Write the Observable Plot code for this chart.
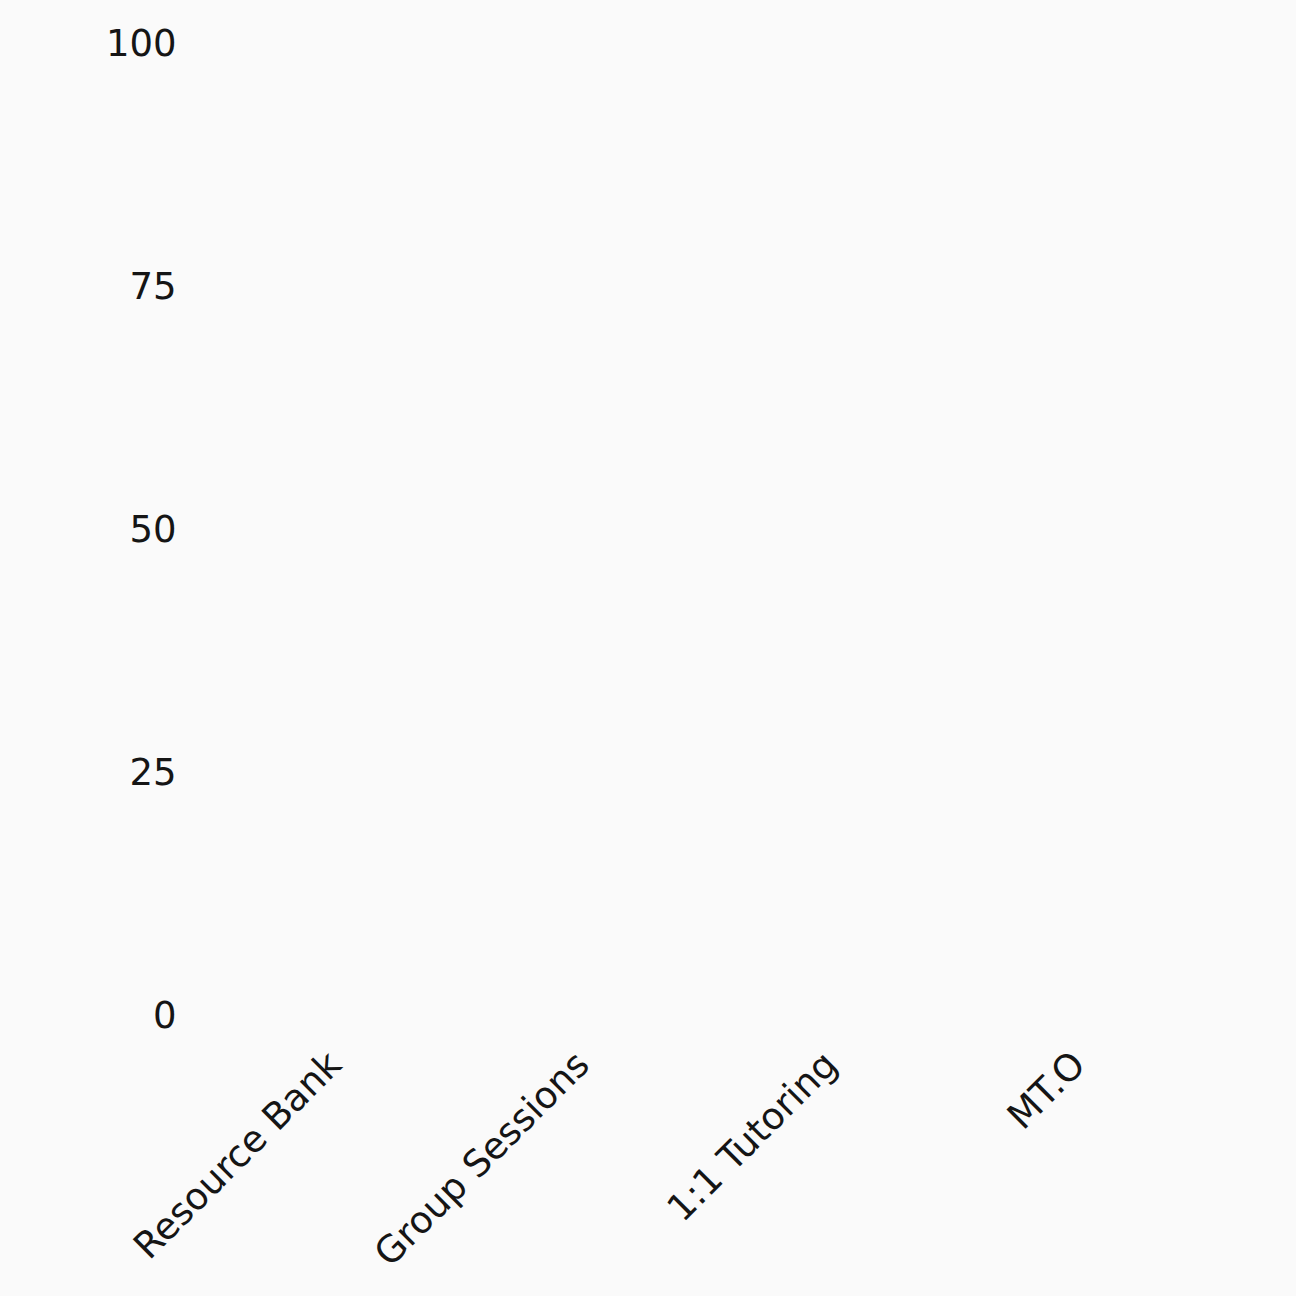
<!DOCTYPE html>
<html>
<head>
<meta charset="utf-8">
<script src="https://cdn.jsdelivr.net/npm/d3@7"></script>
<script src="https://cdn.jsdelivr.net/npm/@observablehq/plot@0.6"></script>
<style>
  html, body { margin: 0; padding: 0; background: #fafafa; }
  #chart svg { display: block; background: #fafafa; }
</style>
</head>
<body>
<div id="chart"></div>
<script>
const categories = ["Resource Bank", "Group Sessions", "1:1 Tutoring", "MT.O"];
const values = [0, 0, 0, 0];
const yTicks = [0, 25, 50, 75, 100];

const data = categories.map((c, i) => ({category: c, value: values[i]}));

const chart = Plot.plot({
  width: 1296,
  height: 1296,
  marginTop: 44,
  marginBottom: 280,
  marginLeft: 198,
  marginRight: 81,
  style: {fontFamily: "DejaVu Sans", fontSize: "37px", color: "#151515", background: "#fafafa"},
  x: {domain: categories, padding: 0.1, label: null},
  y: {domain: [0, 100], label: null},
  marks: [
    Plot.barY(data, {x: "category", y: "value", fill: "#4e79a7"}),
    Plot.axisY({ticks: yTicks, tickSize: 0, tickPadding: 22, label: null, fontSize: 37}),
    Plot.axisX({tickSize: 0, tickPadding: 42, tickRotate: -45, label: null, fontSize: 37})
  ]
});
document.getElementById("chart").appendChild(chart);
</script>
</body>
</html>
